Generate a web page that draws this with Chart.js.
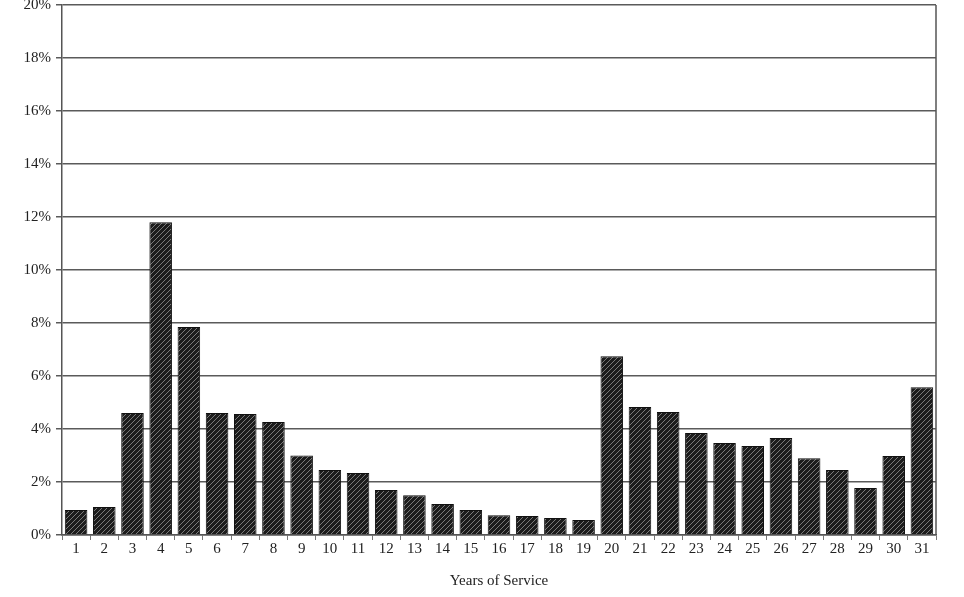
<!DOCTYPE html>
<html>
<head>
<meta charset="utf-8">
<script src="https://cdn.jsdelivr.net/npm/chart.js@4/dist/chart.umd.min.js"></script>
<style>
  html, body { margin: 0; padding: 0; background: #ffffff; }
  #wrap { width: 964px; height: 597px; }
</style>
</head>
<body>
<div id="wrap"><canvas id="chart" width="964" height="597"></canvas></div>
<script>
var years = ['1', '2', '3', '4', '5', '6', '7', '8', '9', '10', '11', '12', '13', '14', '15', '16',
  '17', '18', '19', '20', '21', '22', '23', '24', '25', '26', '27', '28', '29', '30', '31'];
var shares = [0.94, 1.06, 4.6, 11.8, 7.85, 4.6, 4.57, 4.26, 3.0, 2.45, 2.34, 1.7, 1.5, 1.17, 0.94, 0.75,
  0.72, 0.64, 0.57, 6.75, 4.83, 4.64, 3.85, 3.47, 3.36, 3.66, 2.9, 2.45, 1.77, 2.98, 5.58];
var yMax = 20;
var yStep = 2;
var xTitle = 'Years of Service';

function makeHatch() {
  var c = document.createElement('canvas');
  c.width = 5; c.height = 5;
  var g = c.getContext('2d');
  g.fillStyle = '#1c1c1c';
  g.fillRect(0, 0, 5, 5);
  g.strokeStyle = '#7a7a7a';
  g.lineWidth = 1;
  g.beginPath();
  g.moveTo(-1, 6); g.lineTo(6, -1);
  g.moveTo(-1, 1); g.lineTo(1, -1);
  g.moveTo(4, 6); g.lineTo(6, 4);
  g.stroke();
  return g.createPattern(c, 'repeat');
}

var frame = {
  id: 'frame',
  afterDraw: function (chart) {
    var a = chart.chartArea, ctx = chart.ctx;
    ctx.save();
    ctx.strokeStyle = '#555555';
    ctx.lineWidth = 1.5;
    ctx.beginPath();
    ctx.moveTo(a.right, a.top);
    ctx.lineTo(a.right, a.bottom);
    ctx.stroke();
    ctx.restore();
  }
};

var family = '"Liberation Serif", "Times New Roman", serif';

new Chart(document.getElementById('chart'), {
  type: 'bar',
  data: {
    labels: years,
    datasets: [{
      data: shares,
      backgroundColor: makeHatch(),
      borderColor: '#111111',
      borderWidth: 1,
      barPercentage: 0.8,
      categoryPercentage: 1.0
    }]
  },
  options: {
    responsive: false,
    animation: false,
    layout: { padding: { top: 5, right: 28, bottom: 7, left: 0 } },
    plugins: { legend: { display: false }, tooltip: { enabled: false } },
    scales: {
      x: {
        offset: true,
        grid: { offset: true, drawOnChartArea: false, drawTicks: true, tickLength: 5, color: '#777777', lineWidth: 1 },
        border: { color: '#555555', width: 1.5 },
        ticks: { color: '#222222', font: { family: family, size: 15, lineHeight: 1 }, padding: 2, maxRotation: 0, autoSkip: false },
        title: { display: true, text: xTitle, color: '#222222', font: { family: family, size: 15 }, padding: { top: 13, bottom: 0 } }
      },
      y: {
        min: 0,
        max: yMax,
        afterFit: function (s) { s.width = 62; s.paddingTop = 0; s.paddingBottom = 0; },
        grid: { color: '#5a5a5a', lineWidth: 1.5, tickLength: 6 },
        border: { color: '#555555', width: 1.5 },
        ticks: {
          stepSize: yStep,
          color: '#222222',
          font: { family: family, size: 15 },
          padding: 5,
          callback: function (v) { return v + '%'; }
        }
      }
    }
  },
  plugins: [frame]
});
</script>
</body>
</html>
